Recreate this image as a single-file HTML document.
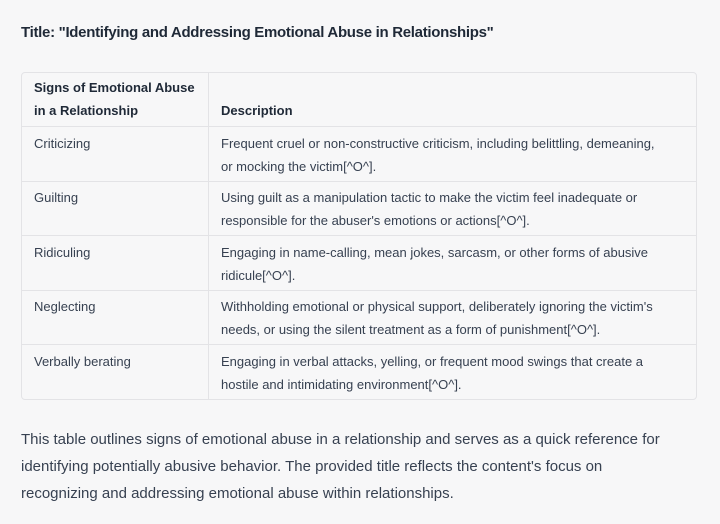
<!DOCTYPE html>
<html><head><style>
html,body{margin:0;padding:0;background:#f7f7f8;width:720px;height:524px;overflow:hidden}
body{font-family:"Liberation Sans",sans-serif;color:#374151}
h1{position:absolute;left:21px;top:24px;margin:0;font-size:15px;font-weight:bold;color:#1f2937;letter-spacing:-0.3px}
table{position:absolute;left:21px;top:72px;width:676px;border-collapse:separate;border-spacing:0;border:1px solid #e3e3e6;border-radius:4px;font-size:13px;line-height:23px}
td,th{text-align:left;vertical-align:top;padding:4px 12px 4px 12px;border-bottom:1px solid #e3e3e6}
td:last-child{padding-right:32px}
th{vertical-align:bottom;font-weight:bold;color:#1f2937;padding-top:3px;padding-bottom:4px;height:45px}
td:first-child,th:first-child{width:162px;border-right:1px solid #e3e3e6}
tr td{padding-top:4.6px;padding-bottom:3px}
tr:last-child td{border-bottom:none}
p{position:absolute;left:21px;top:426px;width:650px;margin:0;font-size:15px;line-height:27px;color:#374151}
</style></head><body>
<h1>Title: "Identifying and Addressing Emotional Abuse in Relationships"</h1>
<table>
<tr><th>Signs of Emotional Abuse in a Relationship</th><th>Description</th></tr>
<tr><td>Criticizing</td><td>Frequent cruel or non-constructive criticism, including belittling, demeaning, or mocking the victim[^O^].</td></tr>
<tr><td>Guilting</td><td>Using guilt as a manipulation tactic to make the victim feel inadequate or responsible for the abuser's emotions or actions[^O^].</td></tr>
<tr><td>Ridiculing</td><td>Engaging in name-calling, mean jokes, sarcasm, or other forms of abusive ridicule[^O^].</td></tr>
<tr><td>Neglecting</td><td>Withholding emotional or physical support, deliberately ignoring the victim's needs, or using the silent treatment as a form of punishment[^O^].</td></tr>
<tr><td>Verbally berating</td><td>Engaging in verbal attacks, yelling, or frequent mood swings that create a hostile and intimidating environment[^O^].</td></tr>
</table>
<p>This table outlines signs of emotional abuse in a relationship and serves as a quick reference for identifying potentially abusive behavior. The provided title reflects the content's focus on recognizing and addressing emotional abuse within relationships.</p>
</body></html>
